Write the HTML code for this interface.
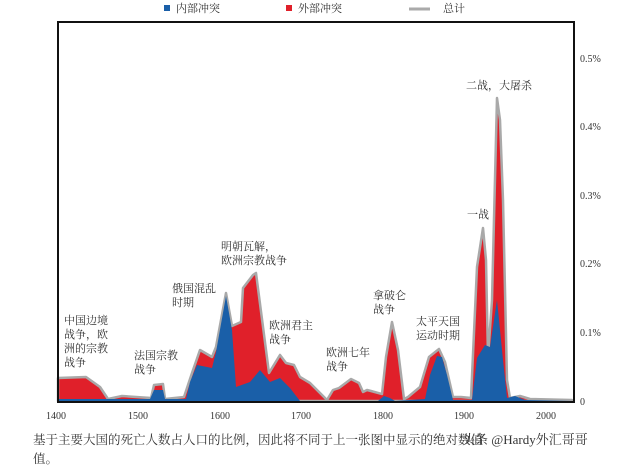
<!DOCTYPE html>
<html><head><meta charset="utf-8"><style>
body{margin:0;background:#fff;}
svg{display:block;}
text{font-family:"Liberation Serif","Noto Serif CJK SC",serif;fill:#333;}
</style></head><body>
<svg width="640" height="469" viewBox="0 0 640 469" xmlns="http://www.w3.org/2000/svg">
<rect width="640" height="469" fill="#fff"/>
<!-- legend -->
<rect x="164" y="5" width="6" height="6" fill="#1a5fa8"/>
<text x="176" y="12" font-size="11">内部冲突</text>
<rect x="286" y="5" width="6" height="6" fill="#e0202a"/>
<text x="298" y="12" font-size="11">外部冲突</text>
<line x1="409" y1="9" x2="430" y2="9" stroke="#aaa" stroke-width="3"/>
<text x="443" y="12" font-size="11">总计</text>
<!-- total (red fill, gray outline) -->
<path d="M58,401 L58,378 L86,377 L100,387 L108,399 L122,396 L151,398 L154,385 L163,384 L165,399 L184,397 L192,373 L200,350 L212,357 L216,347 L226,293 L232,326 L241,322 L243,288 L253,275 L256,273 L269,373 L280,355 L286,363 L294,365 L300,377 L310,383 L327,400 L333,390 L339,388 L351,379 L359,383 L363,392 L367,390 L371,391 L382,394 L386,357 L392,322 L398,350 L404,399 L408,397 L420,387 L429,357 L439,349 L445,362 L453,397 L461,397 L471,398 L477,267 L483,228 L486,260 L488,357 L492,300 L497,98 L500,120 L503,200 L507,380 L510,398 L520,396 L530,399 L572,400 L572,401 Z" fill="#e0202a" stroke="#a9a9a9" stroke-width="2.5" stroke-linejoin="round"/>
<!-- internal (blue) -->
<path d="M58,401 L58,399 L150,399 L154,390 L163,390 L165,399 L186,399 L190,382 L197,365 L212,368 L216,352 L226,296 L232,330 L236,387 L250,382 L260,370 L270,382 L280,378 L290,388 L300,401 L378,401 L384,396 L390,398 L395,401 L425,399 L430,375 L437,356 L442,357 L447,375 L453,400 L472,400 L477,358 L485,345 L490,347 L497,300 L503,360 L507,398 L515,396 L525,400 L572,401 Z" fill="#1a5fa8"/>
<!-- frame -->
<rect x="58" y="22" width="516" height="380" fill="none" stroke="#111" stroke-width="2"/>
<!-- y labels -->
<g font-size="10">
<text x="580" y="62">0.5%</text>
<text x="580" y="130">0.4%</text>
<text x="580" y="199">0.3%</text>
<text x="580" y="267">0.2%</text>
<text x="580" y="336">0.1%</text>
<text x="580" y="405">0</text>
</g>
<!-- x labels -->
<g font-size="10" text-anchor="middle">
<text x="56" y="419">1400</text>
<text x="138" y="419">1500</text>
<text x="220" y="419">1600</text>
<text x="301" y="419">1700</text>
<text x="383" y="419">1800</text>
<text x="464" y="419">1900</text>
<text x="546" y="419">2000</text>
</g>
<!-- annotations -->
<g font-size="11">
<text x="64" y="324">中国边境</text>
<text x="64" y="338">战争，欧</text>
<text x="64" y="352">洲的宗教</text>
<text x="64" y="366">战争</text>
<text x="134" y="359">法国宗教</text>
<text x="134" y="373">战争</text>
<text x="172" y="292">俄国混乱</text>
<text x="172" y="306">时期</text>
<text x="221" y="250">明朝瓦解，</text>
<text x="221" y="264">欧洲宗教战争</text>
<text x="269" y="329">欧洲君主</text>
<text x="269" y="343">战争</text>
<text x="326" y="356">欧洲七年</text>
<text x="326" y="370">战争</text>
<text x="373" y="299">拿破仑</text>
<text x="373" y="313">战争</text>
<text x="416" y="325">太平天国</text>
<text x="416" y="339">运动时期</text>
<text x="467" y="218">一战</text>
<text x="466" y="89">二战，大屠杀</text>
</g>
<!-- caption -->
<text x="33" y="444" font-size="12.5" fill="#111">基于主要大国的死亡人数占人口的比例，因此将不同于上一张图中显示的绝对数值</text>
<text x="33" y="463" font-size="12.5" fill="#111">值。</text>
<text x="462" y="444" font-size="13" fill="#555" font-family="Liberation Sans,Noto Sans CJK SC,sans-serif">头条 @Hardy外汇哥哥</text>
</svg>
</body></html>
